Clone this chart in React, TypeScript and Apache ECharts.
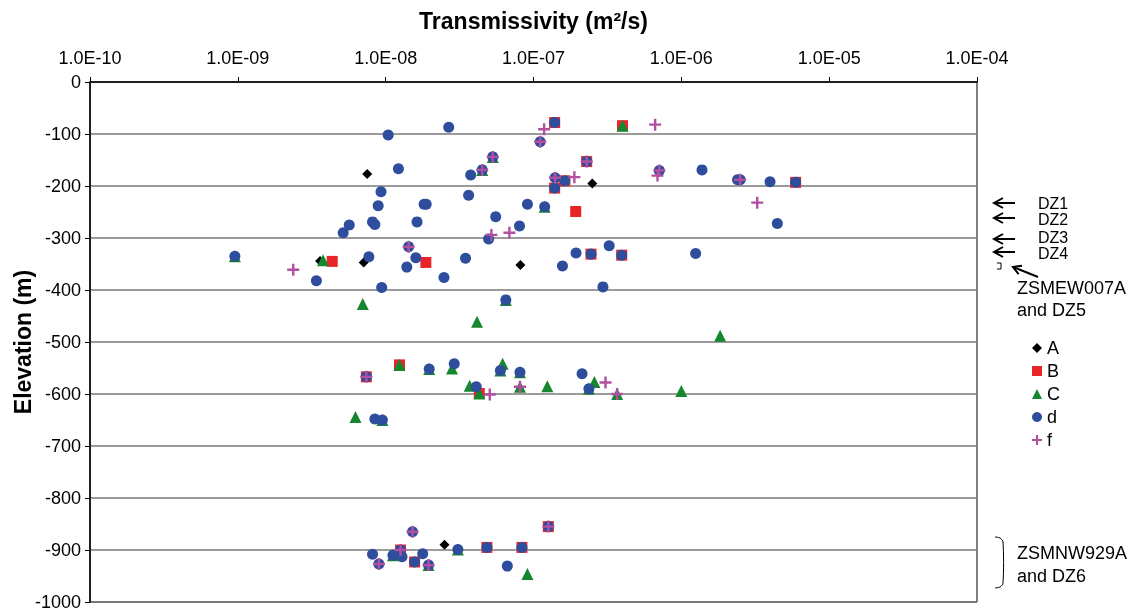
import React, { useEffect, useRef } from "react";
import * as echarts from "echarts";

// Transmissivity (m²/s) vs elevation (m) per test category
const seriesA: [number, number][] = [
  [7.5e-9, -177], [2.5e-7, -195], [3.6e-9, -344], [7.1e-9, -347], [8.15e-8, -352], [2.5e-8, -890],
];
const seriesB: [number, number][] = [
  [1.39e-7, -78], [4.0e-7, -84], [2.29e-7, -153], [1.63e-7, -190], [1.39e-7, -204], [5.93e-6, -193],
  [1.93e-7, -249], [2.45e-7, -331], [3.95e-7, -333], [4.35e-9, -345], [1.87e-8, -347], [7.4e-9, -567],
  [1.24e-8, -544], [4.3e-8, -599], [1.26e-8, -900], [1.57e-8, -923], [4.84e-8, -895], [8.35e-8, -895],
  [1.26e-7, -855],
];
const seriesC: [number, number][] = [
  [4.0e-7, -84], [5.3e-8, -144], [4.5e-8, -169], [1.19e-7, -240], [9.55e-10, -335], [3.77e-9, -343],
  [7.0e-9, -427], [6.5e-8, -419], [4.15e-8, -461], [1.83e-6, -488], [1.24e-8, -544], [1.97e-8, -552],
  [2.81e-8, -551], [6.18e-8, -542], [5.97e-8, -555], [8.1e-8, -558], [3.7e-8, -584], [4.3e-8, -599],
  [8.1e-8, -586], [1.24e-7, -585], [2.58e-7, -577], [2.37e-7, -590], [3.68e-7, -600], [1.0e-6, -594],
  [6.25e-9, -644], [9.5e-9, -650], [1.12e-8, -910], [1.95e-8, -929], [3.08e-8, -899], [9.1e-8, -946],
];
const seriesD: [number, number][] = [
  [1.04e-8, -102], [2.67e-8, -87], [5.3e-8, -144], [4.5e-8, -169], [1.22e-8, -167], [3.76e-8, -179],
  [9.3e-9, -211], [8.9e-9, -238], [1.82e-8, -235], [1.88e-8, -235], [3.64e-8, -218], [5.55e-8, -259],
  [5.67e-9, -275], [5.16e-9, -290], [8.15e-9, -269], [8.45e-9, -274], [1.63e-8, -269], [4.97e-8, -302],
  [9.55e-10, -335], [7.7e-9, -336], [1.43e-8, -317], [1.6e-8, -338], [1.39e-8, -356], [2.48e-8, -376],
  [3.47e-8, -339], [3.4e-9, -382], [9.4e-9, -395], [1.39e-7, -78], [1.11e-7, -115], [2.29e-7, -153],
  [7.1e-7, -170], [1.38e-6, -169], [1.4e-7, -184], [1.63e-7, -190], [1.39e-7, -204], [2.4e-6, -188],
  [2.5e-6, -188], [3.98e-6, -192], [5.93e-6, -193], [9.1e-8, -235], [1.19e-7, -240], [4.46e-6, -272],
  [8.04e-8, -277], [3.25e-7, -315], [1.94e-7, -329], [2.45e-7, -331], [3.95e-7, -333], [1.25e-6, -330],
  [1.57e-7, -354], [2.95e-7, -394], [6.5e-8, -419], [7.4e-9, -567], [1.97e-8, -552], [2.91e-8, -542],
  [5.97e-8, -555], [8.1e-8, -558], [4.1e-8, -586], [8.45e-9, -648], [9.5e-9, -650], [2.13e-7, -561],
  [2.37e-7, -590], [1.52e-8, -865], [8.15e-9, -908], [9.0e-9, -927], [1.12e-8, -910], [1.26e-8, -900],
  [1.29e-8, -913], [1.78e-8, -907], [1.57e-8, -923], [1.95e-8, -929], [3.08e-8, -899], [4.84e-8, -895],
  [8.35e-8, -895], [6.65e-8, -931], [1.26e-7, -855],
];
const seriesF: [number, number][] = [
  [5.3e-8, -144], [4.5e-8, -169], [5.19e-8, -294], [2.37e-9, -361], [1.43e-8, -317], [1.18e-7, -91],
  [1.11e-7, -115], [6.65e-7, -82], [2.29e-7, -153], [7.1e-7, -170], [6.9e-7, -180], [1.4e-7, -184],
  [1.89e-7, -183], [2.5e-6, -188], [3.26e-6, -232], [6.87e-8, -290], [7.4e-9, -567], [5.06e-8, -601],
  [8.1e-8, -586], [3.07e-7, -578], [3.68e-7, -600], [1.52e-8, -865], [9.0e-9, -927], [1.26e-8, -900],
  [1.95e-8, -929], [1.26e-7, -855],
];

const zoneLabels = ["DZ1", "DZ2", "DZ3", "DZ4"];
const zoneLabelY = [203, 219.5, 237.5, 253.5];
const zoneArrowY = [203, 218, 239, 252];

const FONT = "Liberation Sans, Arial, Helvetica, sans-serif";
const PLUS = "path://M4,0H6V4H10V6H6V10H4V6H0V4H4Z";

function expLabel(v: number): string {
  const e = Math.round(Math.log10(v));
  return "1.0E" + (e < 0 ? "-" : "+") + String(Math.abs(e)).padStart(2, "0");
}

function arrowLeft(y: number) {
  return [
    { type: "line", shape: { x1: 1015, y1: y, x2: 994, y2: y }, style: { stroke: "#000", lineWidth: 2 } },
    {
      type: "polyline",
      shape: { points: [[1003, y - 5], [994, y], [1003, y + 5]] },
      style: { stroke: "#000", lineWidth: 2, fill: null },
    },
  ];
}

export default function App() {
  const ref = useRef<HTMLDivElement>(null);

  useEffect(() => {
    if (!ref.current) return;
    const chart = echarts.init(ref.current, undefined, { renderer: "svg" });

    const graphics: any[] = [];
    zoneArrowY.forEach((y) => graphics.push(...arrowLeft(y)));
    zoneLabels.forEach((t, i) =>
      graphics.push({
        type: "text",
        style: { text: t, x: 1038, y: zoneLabelY[i], font: `16px ${FONT}`, fill: "#000", verticalAlign: "middle" },
      })
    );
    // small bracket mark and arrow pointing at ZSMEW007A
    graphics.push({
      type: "polyline",
      shape: { points: [[997, 263], [1001, 263], [1001, 269], [997, 269]] },
      style: { stroke: "#000", lineWidth: 1, fill: null },
    });
    graphics.push({ type: "line", shape: { x1: 1038, y1: 277, x2: 1013, y2: 267 }, style: { stroke: "#000", lineWidth: 2 } });
    graphics.push({
      type: "polyline",
      shape: { points: [[1022, 265.7], [1013, 267], [1018.6, 274.1]] },
      style: { stroke: "#000", lineWidth: 2, fill: null },
    });
    graphics.push({
      type: "text",
      style: { text: "ZSMEW007A", x: 1017, y: 288, font: `18px ${FONT}`, fill: "#000", verticalAlign: "middle" },
    });
    graphics.push({
      type: "text",
      style: { text: "and DZ5", x: 1017, y: 310, font: `18px ${FONT}`, fill: "#000", verticalAlign: "middle" },
    });
    // brace around the deep cluster
    graphics.push({
      type: "polyline",
      shape: { points: [[995, 537], [1000, 538], [1003, 542], [1003, 583], [1000, 587], [995, 588]], smooth: 0.3 },
      style: { stroke: "#000", lineWidth: 1, fill: null },
    });
    graphics.push({
      type: "text",
      style: { text: "ZSMNW929A", x: 1017, y: 553, font: `18px ${FONT}`, fill: "#000", verticalAlign: "middle" },
    });
    graphics.push({
      type: "text",
      style: { text: "and DZ6", x: 1017, y: 576, font: `18px ${FONT}`, fill: "#000", verticalAlign: "middle" },
    });

    const scatter = (name: string, data: [number, number][], symbol: string, size: number, color: string) => ({
      name,
      type: "scatter",
      data,
      symbol,
      symbolSize: size,
      itemStyle: { color, opacity: 1 },
      emphasis: { disabled: true },
    });

    chart.setOption({
      animation: false,
      textStyle: { fontFamily: FONT },
      grid: {
        left: 90,
        right: 162,
        top: 82,
        bottom: 9,
        containLabel: false,
        outerBoundsMode: "none",
        show: true,
        borderColor: "#000",
        borderWidth: 1,
        backgroundColor: "transparent",
      },
      xAxis: {
        type: "log",
        logBase: 10,
        position: "top",
        min: 1e-10,
        max: 1e-4,
        interval: 1,
        name: "Transmissivity (m²/s)",
        nameLocation: "middle",
        nameGap: 50,
        nameTextStyle: { fontSize: 23, fontWeight: "bold", color: "#000", fontFamily: FONT },
        axisLine: { show: true, lineStyle: { color: "#000", width: 1.5 } },
        axisTick: { show: true, inside: false, length: 5, lineStyle: { color: "#000", width: 1 } },
        minorTick: { show: false },
        splitLine: { show: false },
        axisLabel: { formatter: expLabel, fontSize: 18, color: "#000", margin: 15, fontFamily: FONT },
      },
      yAxis: {
        type: "value",
        min: -1000,
        max: 0,
        interval: 100,
        name: "Elevation (m)",
        nameLocation: "middle",
        nameGap: 56,
        nameMoveOverlap: false,
        nameTextStyle: { fontSize: 23, fontWeight: "bold", color: "#000", fontFamily: FONT },
        axisLine: { show: true, lineStyle: { color: "#000", width: 1.5 } },
        axisTick: { show: true, inside: false, length: 5, lineStyle: { color: "#000", width: 1 } },
        splitLine: { show: true, lineStyle: { color: "#7a7a7a", width: 1.5 } },
        axisLabel: { formatter: (v: number) => String(v), fontSize: 18, color: "#000", margin: 9, fontFamily: FONT },
      },
      legend: {
        orient: "vertical",
        left: 1027,
        top: 334,
        itemWidth: 10,
        itemHeight: 10,
        itemGap: 5,
        textStyle: { fontSize: 18, lineHeight: 18, color: "#000", fontFamily: FONT },
        data: ["A", "B", "C", "d", "f"],
      },
      graphic: graphics,
      series: [
        scatter("A", seriesA, "diamond", 10, "#000000"),
        scatter("B", seriesB, "rect", 11, "#e8262a"),
        scatter("C", seriesC, "triangle", 12, "#16862f"),
        scatter("d", seriesD, "circle", 11, "#2e4d9c"),
        scatter("f", seriesF, PLUS, 12, "#b24fa0"),
      ],
    });

    return () => chart.dispose();
  }, []);

  return <div ref={ref} style={{ position: "fixed", left: 0, top: 0, width: 1139, height: 611 }} />;
}
